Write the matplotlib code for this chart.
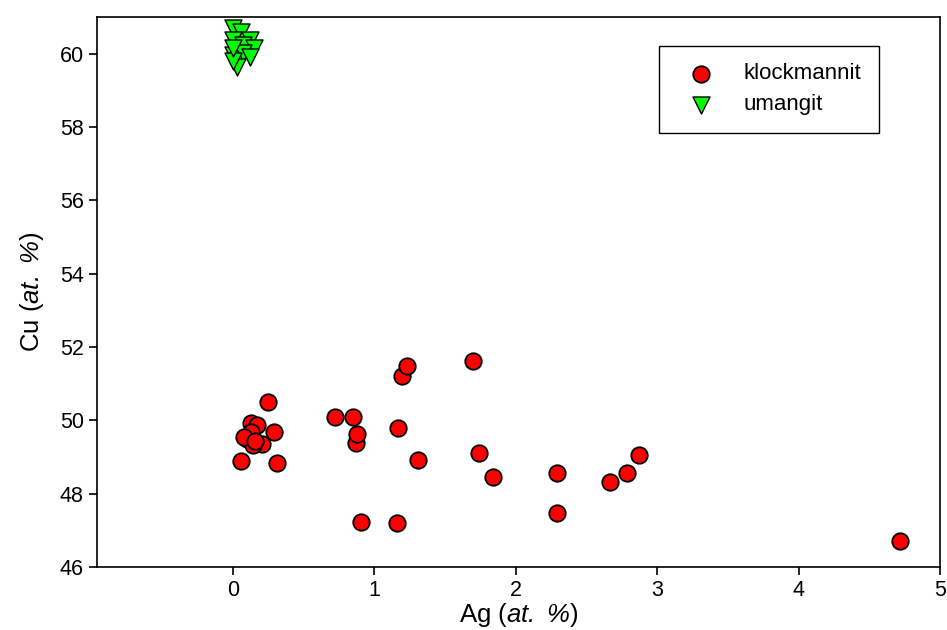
import numpy as np
import matplotlib.pyplot as plt

plt.rcParams['font.family'] = ['Liberation Sans', 'DejaVu Sans']
plt.rcParams['mathtext.fontset'] = 'custom'
plt.rcParams['mathtext.rm'] = 'Liberation Sans:italic'
plt.rcParams['mathtext.it'] = 'Liberation Sans:italic'
plt.rcParams['mathtext.default'] = 'rm'

# klockmannit: Ag vs Cu (at. %)
klock_ag = [0.06, 0.25, 0.29, 0.31, 0.13, 0.17, 0.10, 0.13, 0.21, 0.14, 0.08, 0.16,
            0.72, 0.85, 0.87, 0.88, 0.91, 1.16, 1.17, 1.20, 1.23, 1.31,
            1.70, 1.74, 1.84, 2.29, 2.29, 2.67, 2.79, 2.87, 4.72]
klock_cu = [48.90, 50.51, 49.69, 48.84, 49.93, 49.88, 49.50, 49.68, 49.35, 49.32, 49.55, 49.45,
            50.10, 50.10, 49.38, 49.64, 47.23, 47.21, 49.80, 51.22, 51.47, 48.92,
            51.63, 49.12, 48.46, 48.57, 47.48, 48.32, 48.57, 49.06, 46.71]

# umangit
uman_ag = [0.00, 0.06, 0.00, 0.12, 0.07, 0.15, 0.00, 0.07, 0.12, 0.03, 0.00, 0.00]
uman_cu = [60.70, 60.60, 60.38, 60.38, 60.25, 60.16, 59.97, 60.03, 59.92, 59.65, 59.80, 60.16]

fig = plt.figure(figsize=(9.47, 6.30), dpi=100)
ax = fig.add_axes([0.1024, 0.1, 0.8902, 0.873])

ax.scatter(klock_ag, klock_cu, s=140, marker='o', facecolor='#ff0000',
           edgecolor='black', linewidth=1.3, label='klockmannit', zorder=3)
ax.scatter(uman_ag, uman_cu, s=150, marker='v', facecolor='#00ff00',
           edgecolor='black', linewidth=1.0, label='umangit', zorder=3)

ax.set_xlim(-0.96, 5)
ax.set_ylim(46, 61)
ax.set_xticks([0, 1, 2, 3, 4, 5])
ax.set_yticks(np.arange(46, 61, 2))
ax.tick_params(direction='out', length=6, width=1.2, labelsize=15.5, top=False, right=False)
for sp in ax.spines.values():
    sp.set_linewidth(1.2)

# italic "at. %" via mathtext (rm mapped to italic)
ax.set_xlabel('Ag ($at.$ $\\%$)', fontsize=18.5, labelpad=0)
ax.set_ylabel('Cu ($at.$ $\\%$)', fontsize=18.5, labelpad=10)

leg = ax.legend(loc='upper left', bbox_to_anchor=(0.667, 0.948), fontsize=16,
                fancybox=False, edgecolor='black', framealpha=1,
                borderpad=0.8, handletextpad=0.8, labelspacing=0.45,
                borderaxespad=0, handlelength=2.2)
leg.get_frame().set_linewidth(1.0)

plt.savefig('out.png', dpi=100)
